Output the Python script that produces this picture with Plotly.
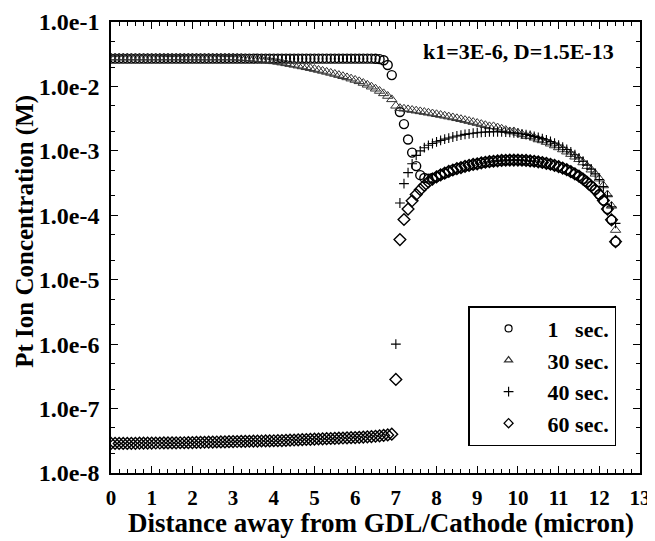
import plotly.graph_objects as go

# Distance (micron)
distance = [
    0.0, 0.1, 0.2, 0.3, 0.4, 0.5, 0.6, 0.7, 0.8, 0.9,
    1.0, 1.1, 1.2, 1.3, 1.4, 1.5, 1.6, 1.7, 1.8, 1.9,
    2.0, 2.1, 2.2, 2.3, 2.4, 2.5, 2.6, 2.7, 2.8, 2.9,
    3.0, 3.1, 3.2, 3.3, 3.4, 3.5, 3.6, 3.7, 3.8, 3.9,
    4.0, 4.1, 4.2, 4.3, 4.4, 4.5, 4.6, 4.7, 4.8, 4.9,
    5.0, 5.1, 5.2, 5.3, 5.4, 5.5, 5.6, 5.7, 5.8, 5.9,
    6.0, 6.1, 6.2, 6.3, 6.4, 6.5, 6.6, 6.7, 6.8, 6.9,
    7.0, 7.1, 7.2, 7.3, 7.4, 7.5, 7.6, 7.7, 7.8, 7.9,
    8.0, 8.1, 8.2, 8.3, 8.4, 8.5, 8.6, 8.7, 8.8, 8.9,
    9.0, 9.1, 9.2, 9.3, 9.4, 9.5, 9.6, 9.7, 9.8, 9.9,
    10.0, 10.1, 10.2, 10.3, 10.4, 10.5, 10.6, 10.7, 10.8, 10.9,
    11.0, 11.1, 11.2, 11.3, 11.4, 11.5, 11.6, 11.7, 11.8, 11.9,
    12.0, 12.1, 12.2, 12.3, 12.4,
]

# 1 sec
conc_1s = [
    0.027, 0.027, 0.027, 0.027, 0.027, 0.027, 0.027, 0.027, 0.027, 0.027,
    0.027, 0.027, 0.027, 0.027, 0.027, 0.027, 0.027, 0.027, 0.027, 0.027,
    0.027, 0.027, 0.027, 0.027, 0.027, 0.027, 0.027, 0.027, 0.027, 0.027,
    0.027, 0.027, 0.027, 0.027, 0.027, 0.027, 0.027, 0.027, 0.027, 0.027,
    0.027, 0.027, 0.027, 0.027, 0.027, 0.027, 0.027, 0.027, 0.027, 0.027,
    0.027, 0.027, 0.027, 0.027, 0.027, 0.027, 0.027, 0.027, 0.027, 0.027,
    0.027, 0.027, 0.027, 0.027, 0.027, 0.0269, 0.0265, 0.0255, 0.0215, 0.015,
    None, 0.004, 0.0026, 0.0015, 0.00094, 0.00058, 0.00042, 0.00038, 0.00037, 0.00038,
    0.000395, 0.000425, 0.00045, 0.00048, 0.000505, 0.00053, 0.00055, 0.000575, 0.000595, 0.000615,
    0.00063, 0.00065, 0.000665, 0.00068, 0.00069, 0.0007, 0.00071, 0.000715, 0.00072, 0.00072,
    0.00072, 0.000715, 0.00071, 0.0007, 0.00069, 0.000675, 0.00066, 0.00064, 0.00062, 0.000595,
    0.00057, 0.00054, 0.00051, 0.000475, 0.00044, 0.000405, 0.000365, 0.000325, 0.000285, 0.00025,
    0.00021, 0.00017, 0.000125, 0.000085, 0.000039,
]

# 30 sec
conc_30s = [
    0.028, 0.028, 0.028, 0.028, 0.028, 0.028, 0.028, 0.028, 0.028, 0.028,
    0.028, 0.028, 0.028, 0.028, 0.028, 0.028, 0.028, 0.028, 0.028, 0.028,
    0.028, 0.028, 0.028, 0.028, 0.028, 0.028, 0.028, 0.028, 0.028, 0.028,
    0.0280, 0.0278, 0.0276, 0.0273, 0.0270, 0.0267, 0.0263, 0.0259, 0.0255, 0.0250,
    0.0245, 0.0240, 0.0234, 0.0228, 0.0222, 0.0216, 0.0210, 0.0204, 0.0198, 0.0192,
    0.0186, 0.0180, 0.0174, 0.0168, 0.0162, 0.0156, 0.0150, 0.0144, 0.0138, 0.0132,
    0.0126, 0.0120, 0.0113, 0.0106, 0.0099, 0.0092, 0.0085, 0.0078, 0.0071, 0.0063,
    0.0050, 0.0046, 0.0045, 0.0044, 0.0043, 0.0042, 0.0041, 0.0040, 0.0039, 0.0038,
    0.0037, 0.0036, 0.0035, 0.0034, 0.0033, 0.0032, 0.0031, 0.0030, 0.0029, 0.0028,
    0.0027, 0.0026, 0.0025, 0.0024, 0.0024, 0.0023, 0.0022, 0.0021, 0.0020, 0.0020,
    0.0019, 0.0018, 0.0017, 0.0017, 0.0016, 0.0015, 0.00145, 0.00137, 0.00129, 0.00121,
    0.00113, 0.00105, 0.00097, 0.00089, 0.00081, 0.00074, 0.00066, 0.00058, 0.00051, 0.00044,
    0.00037, 0.00029, 0.00021, 0.00014, 0.000059,
]

# 40 sec (only visible from the interface onward)
conc_40s = [
    None, None, None, None, None, None, None, None, None, None,
    None, None, None, None, None, None, None, None, None, None,
    None, None, None, None, None, None, None, None, None, None,
    None, None, None, None, None, None, None, None, None, None,
    None, None, None, None, None, None, None, None, None, None,
    None, None, None, None, None, None, None, None, None, None,
    None, None, None, None, None, None, None, None, None, None,
    1.0e-6, 1.55e-4, 3.1e-4, 4.6e-4, 6.3e-4, 8.5e-4, 1.0e-3, 1.12e-3, 1.22e-3, 1.3e-3,
    1.38e-3, 1.45e-3, 1.52e-3, 1.58e-3, 1.64e-3, 1.7e-3, 1.75e-3, 1.8e-3, 1.84e-3, 1.88e-3,
    1.91e-3, 1.94e-3, 1.96e-3, 1.97e-3, 1.98e-3, 1.98e-3, 1.97e-3, 1.96e-3, 1.94e-3, 1.91e-3,
    1.88e-3, 1.84e-3, 1.79e-3, 1.74e-3, 1.68e-3, 1.62e-3, 1.55e-3, 1.48e-3, 1.40e-3, 1.32e-3,
    1.23e-3, 1.14e-3, 1.05e-3, 9.6e-4, 8.7e-4, 7.8e-4, 6.9e-4, 6.0e-4, 5.2e-4, 4.4e-4,
    3.6e-4, 2.8e-4, 2.0e-4, 1.35e-4, 7.5e-5,
]

# 60 sec
conc_60s = [
    2.88e-8, 2.88e-8, 2.88e-8, 2.88e-8, 2.88e-8, 2.89e-8, 2.89e-8, 2.90e-8, 2.90e-8, 2.91e-8,
    2.91e-8, 2.92e-8, 2.92e-8, 2.93e-8, 2.93e-8, 2.94e-8, 2.94e-8, 2.95e-8, 2.95e-8, 2.96e-8,
    2.97e-8, 2.98e-8, 2.99e-8, 3.00e-8, 3.01e-8, 3.02e-8, 3.03e-8, 3.04e-8, 3.05e-8, 3.06e-8,
    3.07e-8, 3.08e-8, 3.09e-8, 3.10e-8, 3.11e-8, 3.12e-8, 3.13e-8, 3.14e-8, 3.15e-8, 3.16e-8,
    3.17e-8, 3.18e-8, 3.19e-8, 3.21e-8, 3.23e-8, 3.25e-8, 3.27e-8, 3.29e-8, 3.31e-8, 3.33e-8,
    3.35e-8, 3.37e-8, 3.39e-8, 3.41e-8, 3.43e-8, 3.45e-8, 3.47e-8, 3.49e-8, 3.51e-8, 3.53e-8,
    3.55e-8, 3.58e-8, 3.61e-8, 3.64e-8, 3.68e-8, 3.72e-8, 3.77e-8, 3.83e-8, 3.90e-8, 4.0e-8,
    2.83e-7, 4.2e-5, 8.6e-5, 1.25e-4, 1.68e-4, 2.1e-4, 2.5e-4, 2.9e-4, 3.3e-4, 3.65e-4,
    0.000395, 0.000425, 0.00045, 0.00048, 0.000505, 0.00053, 0.00055, 0.000575, 0.000595, 0.000615,
    0.00063, 0.00065, 0.000665, 0.00068, 0.00069, 0.0007, 0.00071, 0.000715, 0.00072, 0.00072,
    0.00072, 0.000715, 0.00071, 0.0007, 0.00069, 0.000675, 0.00066, 0.00064, 0.00062, 0.000595,
    0.00057, 0.00054, 0.00051, 0.000475, 0.00044, 0.000405, 0.000365, 0.000325, 0.000285, 0.00025,
    0.00021, 0.00017, 0.000125, 0.000085, 0.000039,
]

series_names = ["1\u2007 sec.", "30 sec.", "40 sec.", "60 sec."]
series_values = [conc_1s, conc_30s, conc_40s, conc_60s]
symbols = ["circle-open", "triangle-up-open", "cross-thin-open", "diamond-open"]
sizes = [9, 9, 7, 9]
colors = ["#000000", "#333333", "#000000", "#000000"]
widths = [1.4, 1.0, 1.1, 1.4]

y_tickvals = [1e-8, 1e-7, 1e-6, 1e-5, 1e-4, 1e-3, 1e-2, 1e-1]
y_ticktext = ["1.0e-8", "1.0e-7", "1.0e-6", "1.0e-5", "1.0e-4", "1.0e-3", "1.0e-2", "1.0e-1"]
x_tickvals = [0, 1, 2, 3, 4, 5, 6, 7, 8, 9, 10, 11, 12, 13]
x_ticktext = ["0", "1", "2", "3", "4", "5", "6", "7", "8", "9", "10", "11", "12", "13"]

x_title = "Distance away from GDL/Cathode (micron)"
y_title = "Pt Ion Concentration (M)"
note = "k1=3E-6, D=1.5E-13"

FONT = "Liberation Serif, Times New Roman, serif"

fig = go.Figure()
for name, vals, sym, sz, col, w in zip(series_names, series_values, symbols, sizes, colors, widths):
    fig.add_trace(go.Scatter(
        x=distance, y=vals, mode="markers", name=name, showlegend=False,
        marker=dict(symbol=sym, size=sz, color=col, line=dict(color=col, width=w)),
    ))
# legend entries (smaller symbols as in the reference legend)
for name, sym, col in zip(series_names, symbols, colors):
    fig.add_trace(go.Scatter(
        x=[None], y=[None], mode="markers", name=name, showlegend=True,
        marker=dict(symbol=sym, size=7, color=col, line=dict(color=col, width=1.2)),
    ))

# the page body adds an 8 px offset, so the figure is sized to fill the window
fig.update_layout(
    width=647, height=533,
    margin=dict(l=103, r=15, t=14, b=68),
    paper_bgcolor="white", plot_bgcolor="white",
    font=dict(family=FONT, size=20, color="black", weight="bold"),
    showlegend=True,
    legend=dict(
        x=0.675, y=0.37, xanchor="left", yanchor="top",
        bordercolor="black", borderwidth=1.5, bgcolor="white",
        font=dict(family=FONT, size=22, color="black", weight="bold"),
        itemwidth=68, tracegroupgap=0,
    ),
    annotations=[
        dict(text=note, xref="paper", yref="paper",
             x=0.955, y=0.935, xanchor="right", yanchor="middle", showarrow=False,
             font=dict(family=FONT, size=22, color="black", weight="bold")),
        dict(text=x_title, xref="paper", yref="paper",
             x=0.511, y=0, xanchor="center", yanchor="top", yshift=-33, showarrow=False,
             font=dict(family=FONT, size=27, color="black", weight="bold")),
        dict(text=y_title, xref="paper", yref="paper", textangle=-90,
             x=-0.1626, y=0.537, xanchor="center", yanchor="middle", showarrow=False,
             font=dict(family=FONT, size=25, color="black", weight="bold")),
    ],
)

fig.update_xaxes(
    range=[0, 13], tickmode="array", tickvals=x_tickvals, ticktext=x_ticktext,
    ticks="inside", ticklen=7, tickwidth=1.3, tickcolor="black",
    minor=dict(ticks="inside", ticklen=4, tickwidth=1, tickcolor="black", dtick=0.2),
    showline=True, linecolor="black", linewidth=1.5, mirror="allticks",
    showgrid=False, zeroline=False, automargin=False,
    ticklabelstandoff=5,
    tickfont=dict(family=FONT, size=21, weight="bold"),
)
fig.update_yaxes(
    type="log", range=[-8, -1], tickmode="array", tickvals=y_tickvals, ticktext=y_ticktext,
    ticks="inside", ticklen=7, tickwidth=1.3, tickcolor="black",
    minor=dict(ticks="inside", ticklen=4, tickwidth=1, tickcolor="black"),
    showline=True, linecolor="black", linewidth=1.5, mirror="allticks",
    showgrid=False, zeroline=False, automargin=False,
    ticklabelstandoff=5,
    tickfont=dict(family=FONT, size=24, weight="bold"),
)

fig.write_html("out.html")
